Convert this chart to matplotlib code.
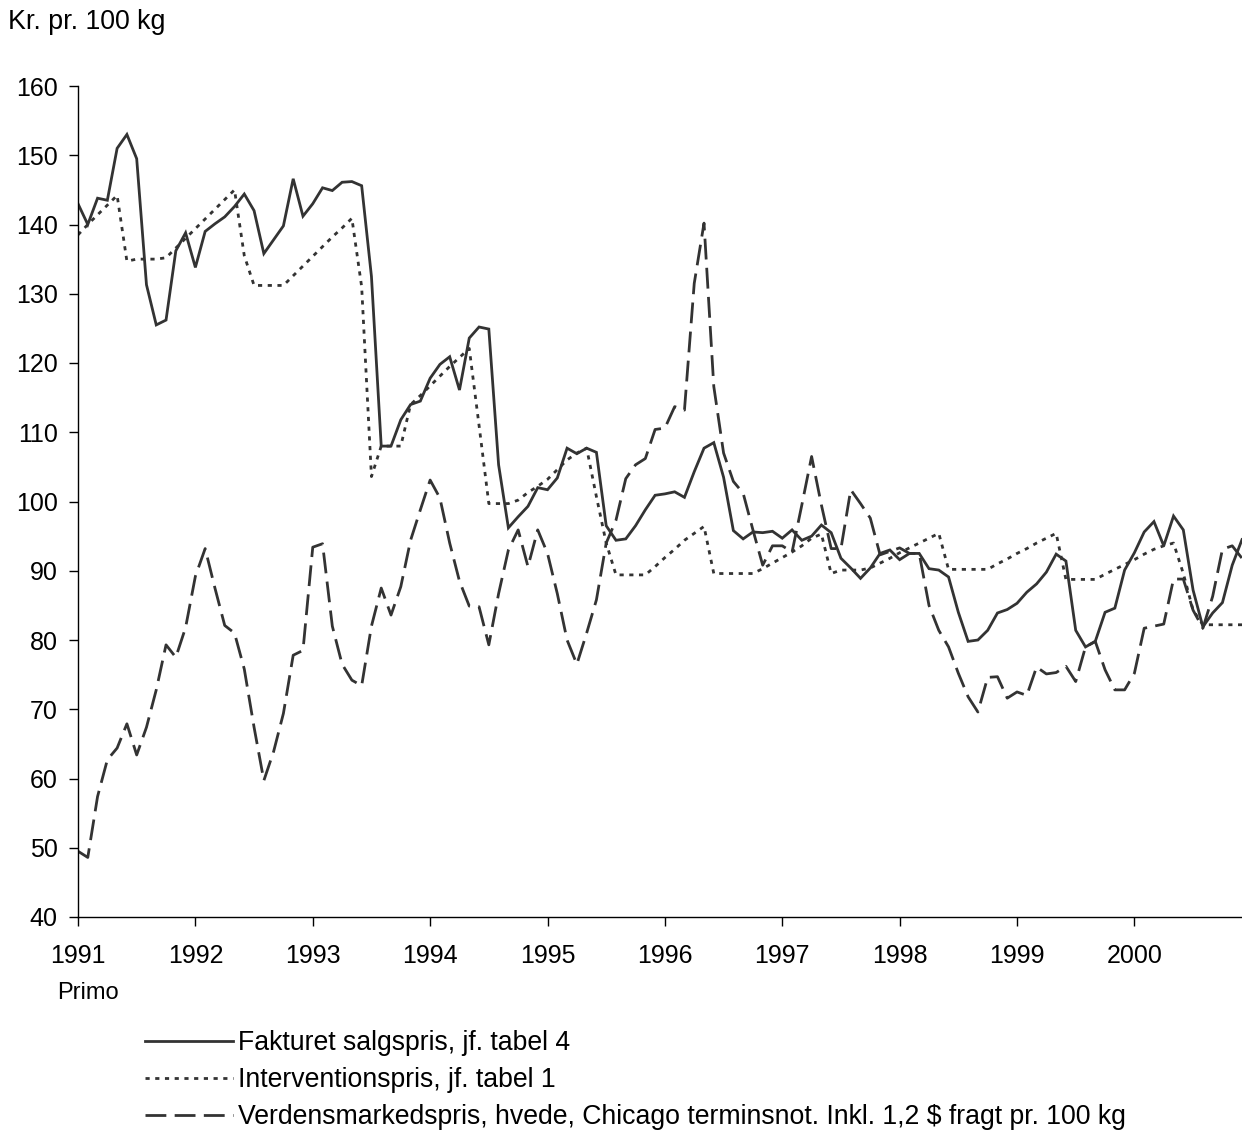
import matplotlib
matplotlib.use("Agg")
import matplotlib.pyplot as plt
from matplotlib.lines import Line2D

plt.rcParams['font.family'] = ['Liberation Sans', 'DejaVu Sans']

# monthly values, primo jan 1991 - dec 2000 (kr. pr. 100 kg)
years = ['1991', '1992', '1993', '1994', '1995', '1996', '1997', '1998', '1999', '2000']

fakturet = [143, 140, 143.8, 143.5, 151, 153, 149.5, 131.3, 125.5, 126.2, 136.2, 138.8,
            133.8, 139, 140.1, 141.1, 142.6, 144.4, 142, 135.8, 137.8, 139.8, 146.6, 141.2,
            143, 145.3, 144.9, 146.1, 146.2, 145.6, 132.5, 108, 108, 111.8, 114, 114.5,
            117.8, 119.8, 120.9, 116.1, 123.6, 125.2, 124.9, 105.3, 96.2, 97.8, 99.3, 102,
            101.7, 103.4, 107.7, 106.9, 107.7, 107.1, 96.5, 94.4, 94.6, 96.5, 98.8, 100.9,
            101.1, 101.4, 100.6, 104.3, 107.7, 108.5, 103.5, 95.8, 94.6, 95.6, 95.5, 95.7,
            94.7, 95.9, 94.4, 95, 96.6, 95.5, 91.8, 90.4, 88.9, 90.4, 92.5, 93,
            91.6, 92.5, 92.5, 90.3, 90.1, 89.1, 84, 79.8, 80, 81.4, 83.9, 84.4,
            85.3, 86.9, 88.1, 89.8, 92.4, 91.4, 81.4, 79, 79.8, 84, 84.6, 90.1,
            92.6, 95.6, 97.1, 93.6, 97.9, 95.9, 87.2, 81.9, 83.9, 85.4, 90.8, 94.5]

intervention = [138.5, 140, 141.4, 142.8, 144.2, 134.7, 135, 135, 135, 135.2, 136.6, 138,
                139.4, 140.8, 142.2, 143.6, 145, 135.5, 131.2, 131.2, 131.2, 131.2, 132.6, 134,
                135.4, 136.8, 138.2, 139.5, 140.9, 131, 103.6, 108, 108, 108, 114, 115.3,
                116.7, 118.1, 119.5, 120.8, 122.1, 111, 99.7, 99.7, 99.7, 100.2, 101.3, 102.2,
                103.2, 104.6, 106, 107, 107.7, 100.7, 94, 89.4, 89.4, 89.4, 89.4, 90.6,
                91.9, 93.1, 94.4, 95.4, 96.4, 89.6, 89.6, 89.6, 89.6, 89.6, 90.3, 91.1,
                91.9, 92.7, 93.6, 94.7, 95.3, 89.6, 90.1, 90.1, 90.1, 90.4, 91.1, 91.8,
                92.6, 93.3, 94, 94.7, 95.4, 90.2, 90.2, 90.2, 90.2, 90.2, 91, 91.7,
                92.5, 93.2, 94, 94.7, 95.4, 88.75, 88.75, 88.75, 88.75, 89.5, 90.2, 90.9,
                91.6, 92.4, 93.1, 93.6, 94, 89.6, 84.3, 82.2, 82.2, 82.2, 82.2, 82.2]

verdensmarked = [49.5, 48.6, 57.4, 62.7, 64.4, 67.9, 63.4, 67.4, 72.8, 79.3, 77.5, 81.8,
                 89.2, 93.2, 87.5, 82.1, 81, 75.8, 67.4, 59.7, 63.9, 69.4, 77.8, 78.5,
                 93.4, 93.9, 82, 76.5, 74.2, 73.4, 82, 87.5, 83.6, 87.7, 94.4, 98.8,
                 103.1, 100.5, 94, 88.5, 84.9, 84.8, 79.3, 86.7, 93, 95.9, 90.6, 95.9,
                 92.5, 86.7, 80, 76.5, 81, 85.8, 94, 97.3, 103.3, 105.3, 106.2, 110.4,
                 110.6, 113.7, 113.2, 131.5, 140.2, 116.6, 107, 102.9, 101.2, 95.9, 90.8, 93.6,
                 93.6, 92.7, 99.5, 106.5, 99.5, 93.2, 93.2, 101.7, 99.7, 97.6, 92.3, 92.8,
                 93.3, 92.5, 92.5, 85, 81.4, 79, 75.2, 71.8, 69.6, 74.6, 74.7, 71.6,
                 72.5, 72, 76.1, 75.1, 75.3, 76.2, 74, 79, 79.8, 75.7, 72.8, 72.8,
                 75.2, 81.7, 82, 82.3, 88.8, 88.8, 84.3, 81.7, 86.3, 93.1, 93.6, 91.8]

labels = ['Fakturet salgspris, jf. tabel 4',
          'Interventionspris, jf. tabel 1',
          'Verdensmarkedspris, hvede, Chicago terminsnot. Inkl. 1,2 $ fragt pr. 100 kg']

months = list(range(len(fakturet)))
col = '#333333'
W, H = 1242, 1135

fig = plt.figure(figsize=(W / 100, H / 100), dpi=100)
ax = fig.add_axes([78 / W, 1 - 917 / H, (W - 78) / W, (917 - 86) / H])

l1, = ax.plot(months, fakturet, color=col, lw=2.0, solid_joinstyle='miter')
l2, = ax.plot(months, intervention, color=col, lw=2.0, dashes=(1.5, 2.0))
l3, = ax.plot(months, verdensmarked, color=col, lw=2.0, dashes=(7.5, 3))

ax.set_xlim(0, 119)
ax.set_ylim(40, 160)
ax.set_xticks(range(0, 120, 12))
ax.set_xticklabels(years)
ax.set_yticks(range(40, 161, 10))
for s in ['top', 'right']:
    ax.spines[s].set_visible(False)
for s in ['left', 'bottom']:
    ax.spines[s].set_linewidth(1.0)
ax.tick_params(axis='both', direction='out', length=6.5, width=1.0, labelsize=18)
ax.tick_params(axis='x', pad=13)
ax.tick_params(axis='y', pad=8)

fig.text(8 / W, 1 - 22 / H, 'Kr. pr. 100 kg', ha='left', va='center', fontsize=19.3)
fig.text(88 / W, 1 - 993 / H, 'Primo', ha='center', va='center', fontsize=17)

handles = [Line2D([], [], color=col, lw=2.0),
           Line2D([], [], color=col, lw=2.0, dashes=(1.5, 2.0)),
           Line2D([], [], color=col, lw=2.0, dashes=(7.5, 3))]
fig.legend(handles, labels, loc='upper left', bbox_to_anchor=(145 / W, 1 - 1030 / H),
           frameon=False, fontsize=19.2, handlelength=3.3, handletextpad=0.2,
           labelspacing=0.41, borderpad=0, borderaxespad=0)

fig.savefig('out.png', dpi=100)
